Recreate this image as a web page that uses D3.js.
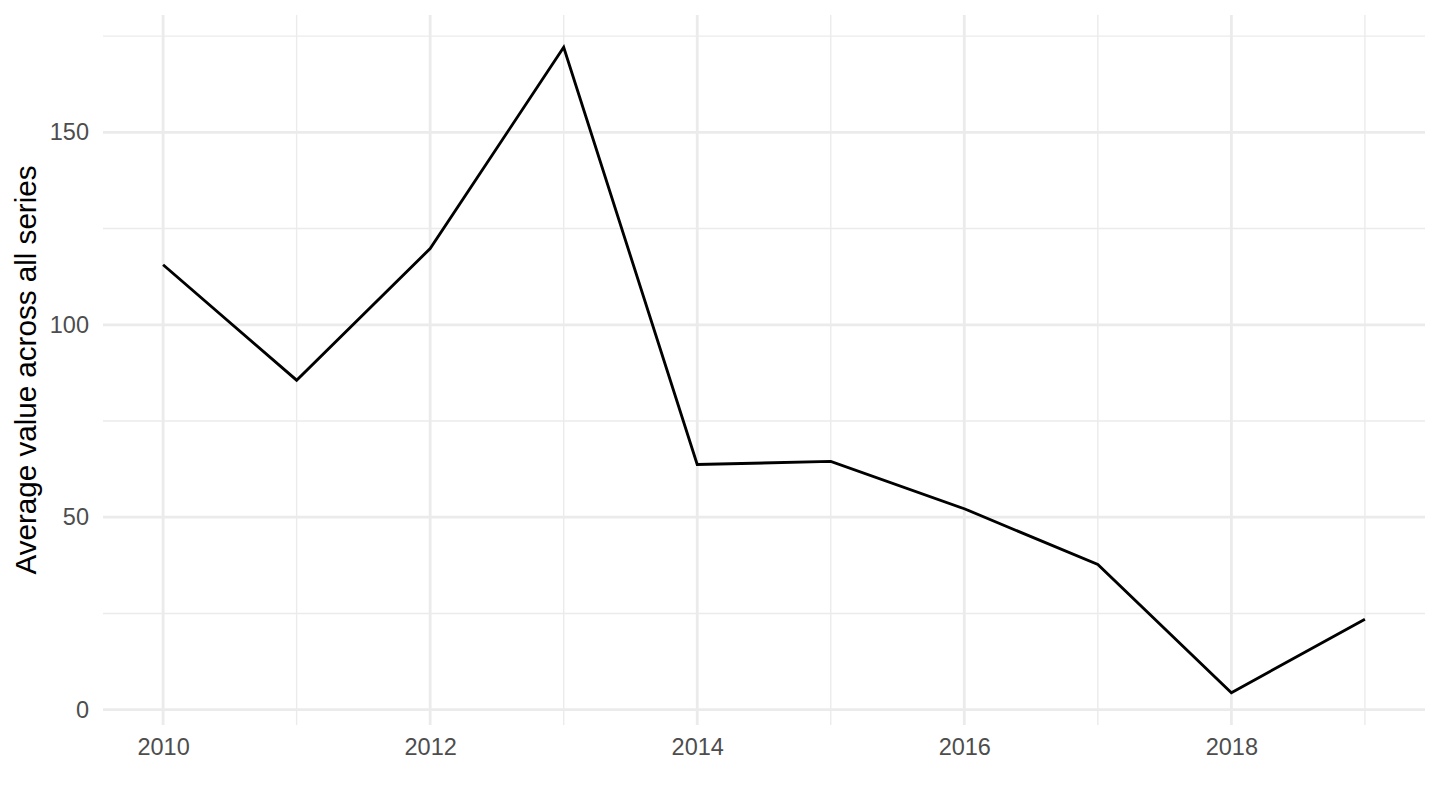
<!DOCTYPE html>
<html>
<head>
<meta charset="utf-8">
<script src="https://cdn.jsdelivr.net/npm/d3@7"></script>
<style>
  html, body { margin: 0; padding: 0; background: #fff; }
  svg { display: block; font-family: "Liberation Sans", Arial, sans-serif; }
</style>
</head>
<body>
<div id="chart"></div>
<script>
// ── Data ────────────────────────────────────────────────────────────────
const years  = [2010, 2011, 2012, 2013, 2014, 2015, 2016, 2017, 2018, 2019];
const values = [115.6, 85.6, 119.8, 172.1, 63.7, 64.5, 52.2, 37.7, 4.4, 23.5];
const xMajorTicks = [2010, 2012, 2014, 2016, 2018];
const xMinorTicks = [2011, 2013, 2015, 2017, 2019];
const yMajorTicks = [0, 50, 100, 150];
const yMinorTicks = [25, 75, 125, 175];
const yTitle = "Average value across all series";

// ── Palette ─────────────────────────────────────────────────────────────
const GRID = "#EBEBEB";
const TICK_TXT = "#4D4D4D";

function expand(ext, f) {
  const pad = (ext[1] - ext[0]) * f;
  return [ext[0] - pad, ext[1] + pad];
}

function render() {
  const W = 1440, H = 810;
  const margin = { top: 15, right: 15, bottom: 85, left: 103 };
  const data = years.map((y, i) => ({ year: y, value: values[i] }));

  const svg = d3.select("#chart").append("svg")
    .attr("width", W).attr("height", H);

  const x = d3.scaleLinear()
    .domain(expand(d3.extent(years), 0.05))
    .range([margin.left, W - margin.right]);

  const y = d3.scaleLinear()
    .domain(expand(d3.extent(values), 0.05))
    .range([H - margin.bottom, margin.top]);

  const top = margin.top, bottom = H - margin.bottom;
  const left = margin.left, right = W - margin.right;

  // Minor grid
  svg.append("g").selectAll("line").data(yMinorTicks).join("line")
    .attr("x1", left).attr("x2", right)
    .attr("y1", d => y(d)).attr("y2", d => y(d))
    .attr("stroke", GRID).attr("stroke-width", 1.4);
  svg.append("g").selectAll("line").data(xMinorTicks).join("line")
    .attr("y1", top).attr("y2", bottom)
    .attr("x1", d => x(d)).attr("x2", d => x(d))
    .attr("stroke", GRID).attr("stroke-width", 1.4);

  // Major grid
  svg.append("g").selectAll("line").data(yMajorTicks).join("line")
    .attr("x1", left).attr("x2", right)
    .attr("y1", d => y(d)).attr("y2", d => y(d))
    .attr("stroke", GRID).attr("stroke-width", 2.8);
  svg.append("g").selectAll("line").data(xMajorTicks).join("line")
    .attr("y1", top).attr("y2", bottom)
    .attr("x1", d => x(d)).attr("x2", d => x(d))
    .attr("stroke", GRID).attr("stroke-width", 2.8);

  // Axes (labels only, ggplot minimal style)
  const xAxis = svg.append("g")
    .attr("transform", `translate(0,${bottom})`)
    .call(d3.axisBottom(x).tickValues(xMajorTicks).tickFormat(d3.format("d")).tickSize(0).tickPadding(13));
  const yAxis = svg.append("g")
    .attr("transform", `translate(${left},0)`)
    .call(d3.axisLeft(y).tickValues(yMajorTicks).tickSize(0).tickPadding(14));
  [xAxis, yAxis].forEach(g => {
    g.select(".domain").remove();
    g.selectAll("text").attr("fill", TICK_TXT).style("font-size", "23.5px");
  });

  // Line
  const line = d3.line().x(d => x(d.year)).y(d => y(d.value));
  svg.append("path").datum(data)
    .attr("fill", "none").attr("stroke", "#000")
    .attr("stroke-width", 2.85).attr("stroke-linejoin", "miter")
    .attr("d", line);

  // Y-axis title
  svg.append("text")
    .attr("transform", `translate(36,${(top + bottom) / 2}) rotate(-90)`)
    .attr("text-anchor", "middle")
    .attr("fill", "#000").style("font-size", "29.6px")
    .text(yTitle);
}

render();
</script>
</body>
</html>
